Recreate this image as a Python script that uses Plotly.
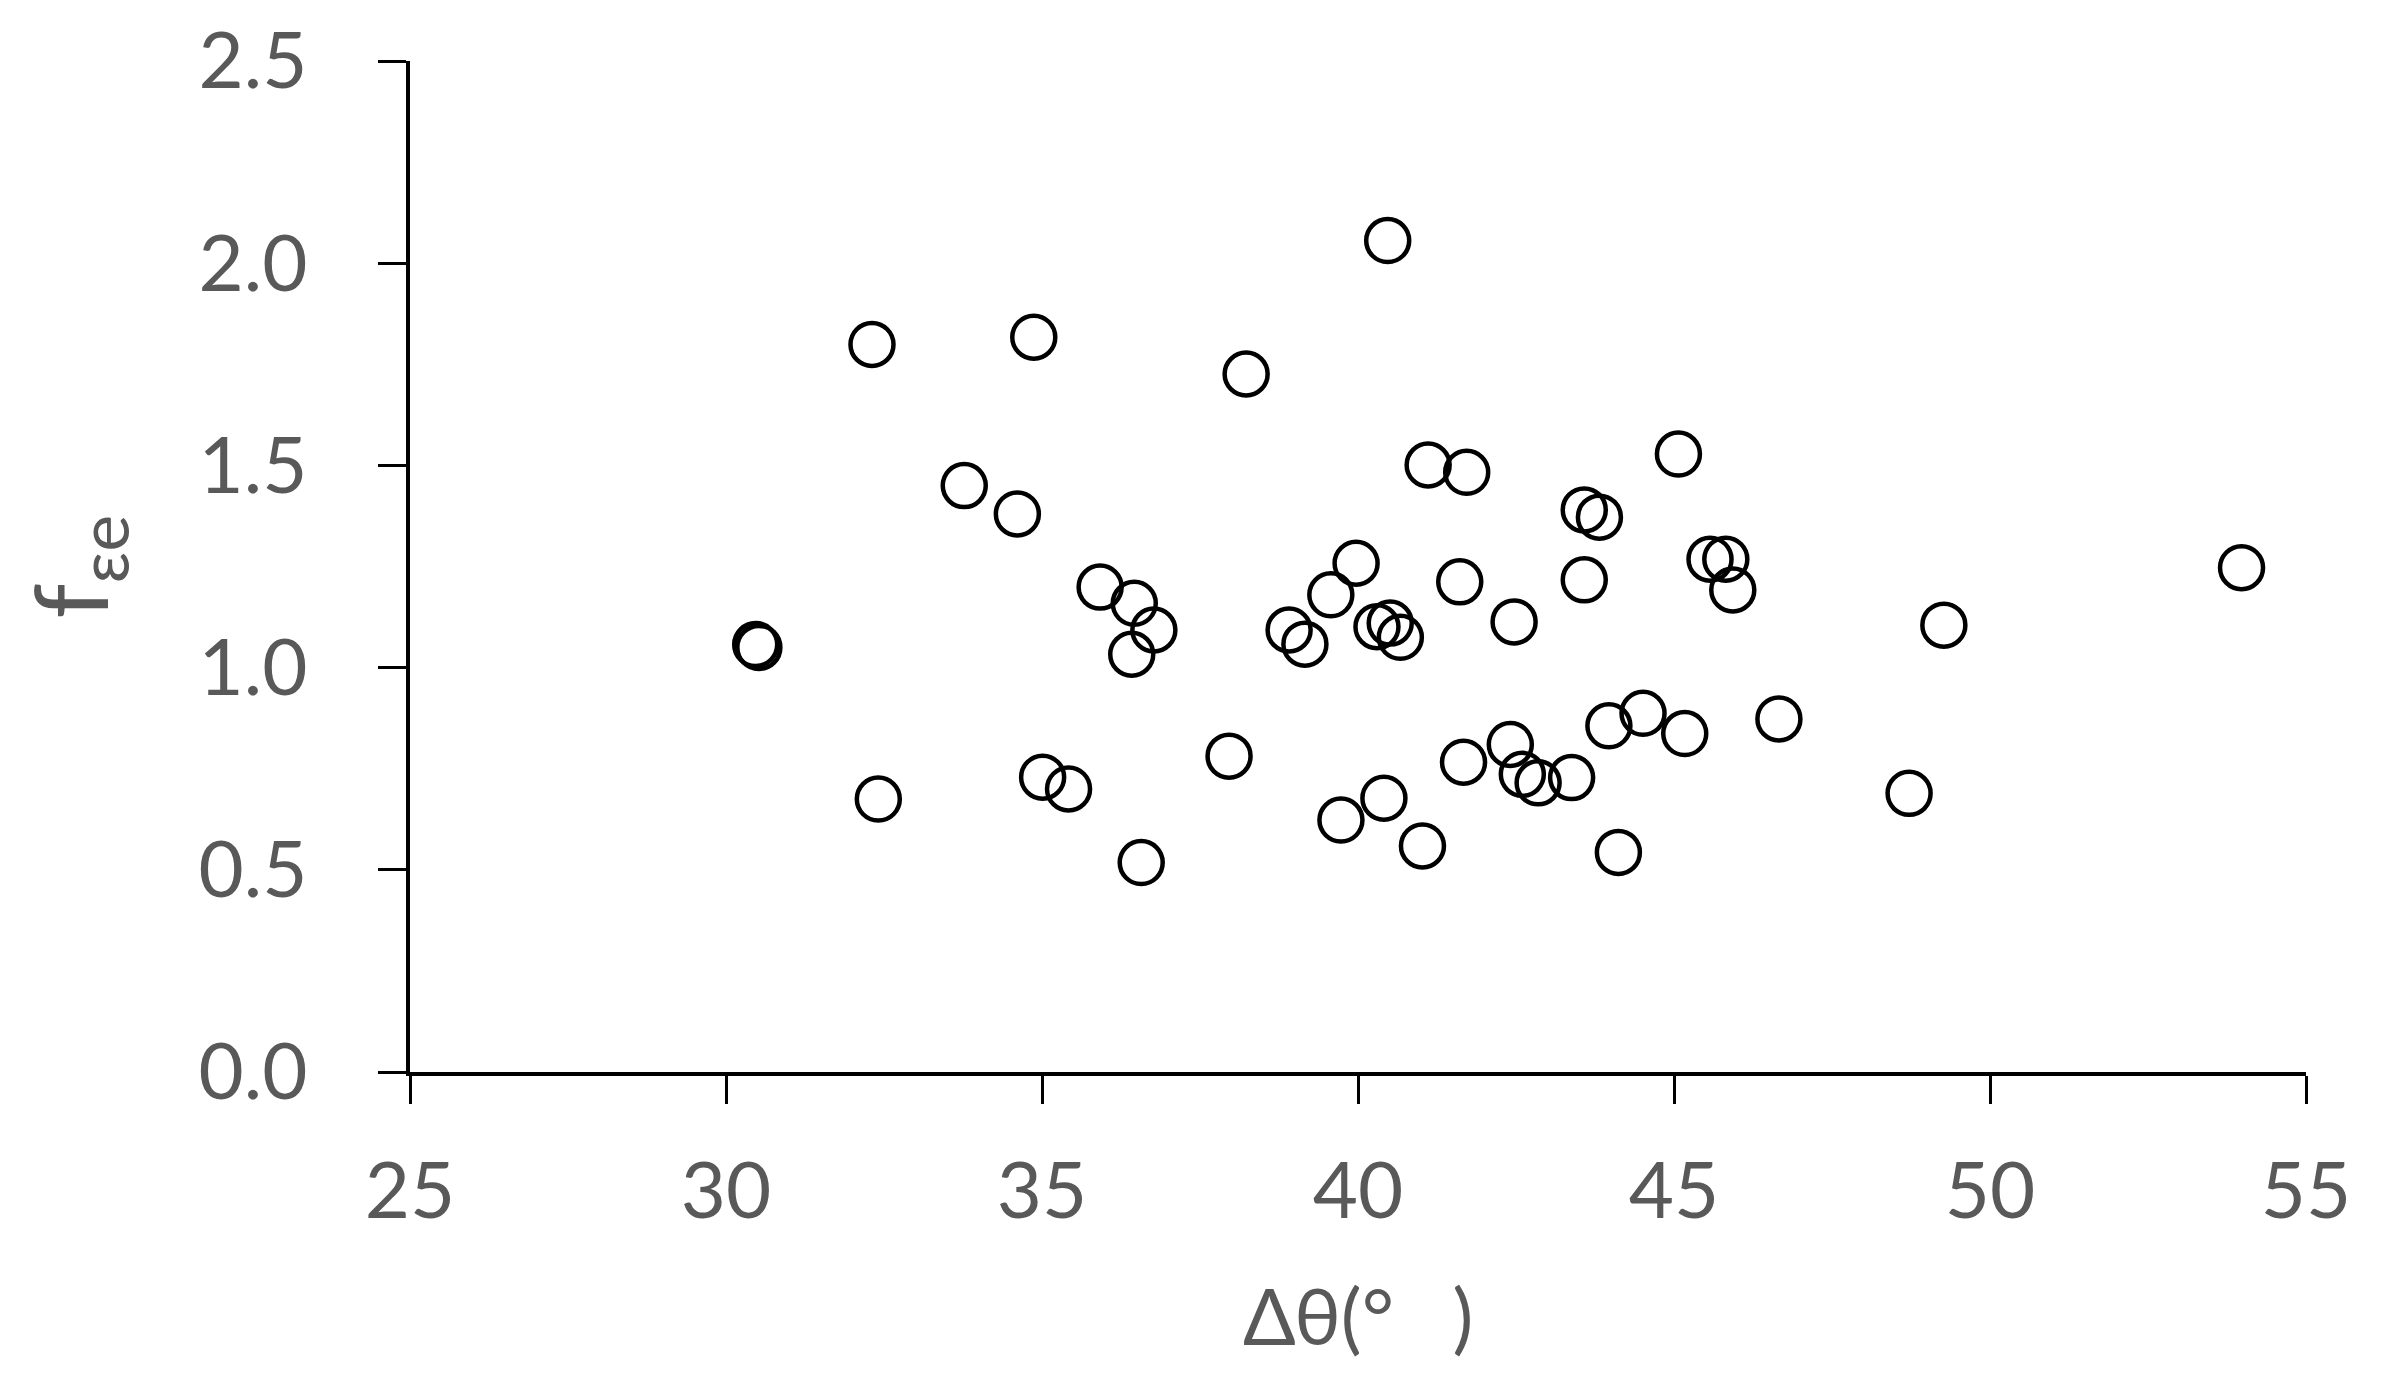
import plotly.graph_objects as go

# Data
delta_theta = [30.47, 30.52, 32.31, 32.41, 33.77, 34.61, 34.87, 35.01, 35.42, 35.92,
               36.46, 36.77, 36.42, 36.57, 37.96, 38.23, 38.91, 39.16, 39.57, 39.73,
               39.97, 40.47, 40.30, 40.51, 40.67, 40.41, 41.02, 41.11, 41.72, 41.61,
               41.67, 42.47, 42.41, 42.60, 42.85, 43.38, 43.58, 43.82, 43.58, 43.97,
               44.12, 44.51, 45.07, 45.17, 45.57, 45.82, 45.93, 46.66, 48.72, 49.27,
               53.98]
f_eps = [1.057, 1.050, 1.799, 0.675, 1.450, 1.380, 1.817, 0.729, 0.700, 1.199,
         1.159, 1.093, 1.033, 0.518, 0.781, 1.726, 1.093, 1.058, 1.180, 0.623,
         1.258, 2.056, 1.101, 1.110, 1.075, 0.677, 0.559, 1.501, 1.483, 1.212,
         0.766, 1.113, 0.810, 0.736, 0.715, 0.728, 1.390, 1.372, 1.217, 0.856,
         0.543, 0.887, 1.528, 0.837, 1.268, 1.268, 1.192, 0.873, 0.689, 1.105,
         1.247]

x_ticks = [25, 30, 35, 40, 45, 50, 55]
y_ticks = [0.0, 0.5, 1.0, 1.5, 2.0, 2.5]
y_tick_labels = ["0.0", "0.5", "1.0", "1.5", "2.0", "2.5"]
x_title = "Δθ(°\u2003)"
y_title = "f<sub>εe</sub>"

W, H = 2393, 1384
L, R, T, B = 402, 95, 53, 320
PW, PH = W - L - R, H - T - B
GRAY = "#595959"
FONT = "Lato"

fig = go.Figure()
fig.add_trace(go.Scatter(
    x=delta_theta, y=f_eps, mode="markers",
    marker=dict(symbol="circle-open", size=43, color="black",
                line=dict(color="black", width=4.5)),
    showlegend=False,
))

fig.update_layout(
    width=W, height=H,
    margin=dict(l=L, r=R, t=T, b=B, pad=0, autoexpand=False),
    paper_bgcolor="white", plot_bgcolor="white",
    font=dict(family=FONT, color=GRAY, size=78),
    xaxis=dict(
        range=[25, 55], tickmode="array", tickvals=x_ticks,
        ticktext=[str(v) for v in x_ticks], automargin=False,
        showgrid=False, zeroline=False, showline=True, linecolor="black", linewidth=4,
        ticks="outside", ticklen=28, tickwidth=3, tickcolor="black",
        tickfont=dict(family=FONT, size=78, color=GRAY), ticklabelstandoff=20,
    ),
    yaxis=dict(
        range=[0, 2.5], tickmode="array", tickvals=y_ticks, ticktext=y_tick_labels,
        automargin=False,
        showgrid=False, zeroline=False, showline=True, linecolor="black", linewidth=4,
        ticks="outside", ticklen=28, tickwidth=3, tickcolor="black",
        tickfont=dict(family=FONT, size=78, color=GRAY), ticklabelstandoff=55,
    ),
    annotations=[
        dict(text=x_title, xref="paper", yref="paper", x=0.5, y=(PH - (1307 - T)) / PH,
             xanchor="center", yanchor="middle", showarrow=False,
             font=dict(family=FONT, size=78, color=GRAY)),
        dict(text=y_title, xref="paper", yref="paper", x=(68 - L) / PW, y=0.5,
             xanchor="center", yanchor="middle", showarrow=False, textangle=-90,
             font=dict(family=FONT, size=100, color=GRAY)),
    ],
)

fig.write_html("out.html")
